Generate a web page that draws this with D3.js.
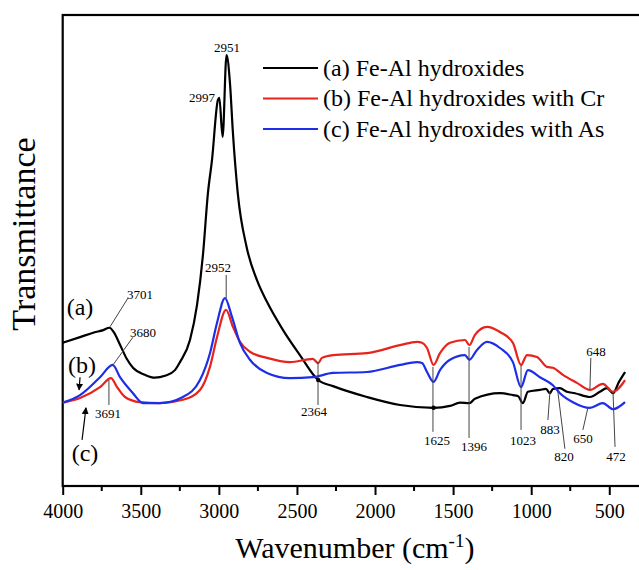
<!DOCTYPE html>
<html>
<head>
<meta charset="utf-8">
<script src="https://cdn.jsdelivr.net/npm/d3@7"></script>
<style>
  body { margin: 0; background: #fff; }
  svg { display: block; font-family: "Liberation Serif", "DejaVu Serif", serif; }
</style>
</head>
<body>
<div id="chart"></div>
<script>
'use strict';

// wavenumber (cm-1) and transmittance (arbitrary units)
var wnA = [4000, 3889, 3800, 3740, 3701, 3672, 3633, 3590, 3550, 3473, 3409, 3345, 3281, 3249, 3185, 3140, 3102, 3070, 3044, 3006, 2997, 2976, 2951, 2929, 2910, 2879, 2822, 2756, 2692, 2589, 2481, 2364, 2269, 2052, 1840, 1625, 1520, 1456, 1396, 1360, 1200, 1117, 1085, 1053, 1021, 944, 905, 880, 861, 816, 771, 720, 624, 560, 515, 476, 438, 399];
var valA = [30.4, 31.6, 32.6, 33.1, 33.6, 32.6, 30.0, 27.0, 25.1, 23.6, 23.0, 23.4, 24.6, 26.3, 31.0, 38.4, 49.0, 62.2, 69.2, 82.0, 82.4, 74.1, 91.5, 85.6, 75.0, 62.2, 50.7, 43.7, 39.1, 33.1, 27.8, 22.5, 21.2, 18.9, 17.2, 16.6, 17.0, 17.7, 17.6, 18.5, 19.7, 19.3, 19.1, 17.6, 20.0, 20.4, 20.6, 19.7, 20.6, 20.8, 20.0, 19.7, 18.9, 20.0, 20.8, 19.7, 22.1, 24.2];

var wnB = [4000, 3889, 3761, 3691, 3652, 3601, 3505, 3377, 3230, 3121, 3057, 3012, 2954, 2910, 2865, 2801, 2692, 2545, 2398, 2364, 2340, 2269, 2052, 1840, 1731, 1699, 1667, 1625, 1584, 1520, 1424, 1396, 1360, 1283, 1200, 1117, 1065, 1027, 963, 899, 861, 797, 707, 624, 541, 476, 399];
var valB = [17.7, 18.7, 21.0, 22.9, 21.0, 18.9, 17.8, 17.6, 18.3, 20.4, 25.3, 31.6, 37.4, 33.8, 30.6, 28.5, 27.2, 26.3, 27.0, 26.1, 27.2, 27.8, 28.2, 29.9, 30.6, 30.4, 29.3, 25.7, 28.2, 30.4, 31.0, 29.9, 32.1, 33.8, 32.7, 30.4, 25.7, 27.8, 27.4, 25.3, 25.1, 23.6, 21.9, 20.4, 21.7, 20.0, 22.5];

var wnC = [4000, 3889, 3761, 3680, 3633, 3550, 3486, 3377, 3230, 3121, 3057, 3012, 2961, 2916, 2865, 2801, 2692, 2545, 2398, 2269, 2052, 1840, 1731, 1699, 1667, 1625, 1584, 1520, 1424, 1396, 1347, 1283, 1200, 1117, 1065, 1021, 944, 861, 816, 733, 624, 541, 476, 399];
var valC = [17.7, 19.3, 23.1, 25.7, 23.1, 19.7, 17.6, 17.6, 18.9, 22.5, 28.2, 34.6, 39.9, 35.9, 30.4, 26.8, 24.0, 22.9, 23.1, 24.0, 24.2, 25.7, 26.3, 26.1, 24.2, 22.1, 24.6, 26.8, 27.8, 26.8, 28.9, 30.6, 29.3, 26.3, 21.0, 24.6, 23.1, 21.4, 19.7, 17.8, 16.6, 17.6, 16.3, 17.8];

var seriesNames = ["(a) Fe-Al hydroxides", "(b) Fe-Al hydroxides with Cr", "(c) Fe-Al hydroxides with As"];
var seriesColors = ["#000000", "#e8221c", "#1c2ee8"];

var xTicks = [4000, 3500, 3000, 2500, 2000, 1500, 1000, 500];

// peak labels: text, label position (wn, value)
var peakText = ["2951", "2997", "2952", "3701", "3680", "3691", "2364", "1625", "1396", "1023", "883", "820", "650", "648", "472"];
var peakWn = [2948, 3108, 3006, 3505, 3486, 3710, 2391, 1603, 1366, 1053, 880, 790, 669, 585, 457];
var peakVal = [93.2, 82.6, 46.5, 40.6, 32.7, 15.5, 15.9, 9.6, 8.5, 9.6, 12.1, 6.2, 10.2, 28.5, 6.2];
// leader lines: [wn1, val1, wn2, val2]
var leaders = [
  [2953, 44.8, 2953, 39.9], [3697, 33.8, 3582, 39.9], [3678, 25.7, 3550, 31.6],
  [3704, 22.5, 3704, 17.2], [2365, 26.3, 2365, 17.2], [1629, 25.3, 1629, 11.5],
  [1398, 29.5, 1398, 10.2], [1065, 25.7, 1065, 11.9], [880, 20.0, 893, 14.0],
  [829, 20.0, 784, 7.9], [637, 16.6, 669, 11.9], [618, 27.2, 624, 20.4], [476, 20.0, 463, 8.3]
];
var curveTags = ["(a)", "(b)", "(c)"];
var tagWn = [3889, 3876, 3857];
var tagVal = [38.0, 25.7, 7.0];
var arrows = [[3889, 23.1, 3895, 20.4], [3876, 9.8, 3851, 16.6]];

var W = 639, H = 570;
var plot = { left: 62.7, right: 640.5, top: 15, bottom: 486 };

var svg = d3.select("#chart").append("svg").attr("width", W).attr("height", H);

var x = d3.scaleLinear().domain([4000, 300]).range([plot.left, plot.right]);
var y = d3.scaleLinear().domain([0, 100]).range([plot.bottom, plot.top]);

svg.append("defs").append("marker")
  .attr("id", "arr").attr("viewBox", "0 0 10 10").attr("refX", 9).attr("refY", 5)
  .attr("markerWidth", 7).attr("markerHeight", 9).attr("markerUnits", "userSpaceOnUse")
  .attr("orient", "auto")
  .append("path").attr("d", "M0,0 L10,5 L0,10 z").attr("fill", "#000");

// frame
svg.append("rect")
  .attr("x", plot.left).attr("y", plot.top)
  .attr("width", plot.right - plot.left).attr("height", plot.bottom - plot.top)
  .attr("fill", "none").attr("stroke", "#000").attr("stroke-width", 2.2);

// x axis
var xAxis = svg.append("g").attr("transform", "translate(0," + plot.bottom + ")")
  .call(d3.axisBottom(x).tickValues(xTicks).tickSize(9).tickPadding(9).tickFormat(d3.format("d")));
xAxis.select(".domain").remove();
xAxis.selectAll("line").attr("stroke-width", 2);
xAxis.selectAll("text").attr("font-size", 20).attr("font-family", "Liberation Serif").attr("fill", "#000");

var minorTicks = d3.range(3750, 300, -500);
svg.append("g").selectAll("line").data(minorTicks).enter().append("line")
  .attr("x1", function (d) { return x(d); }).attr("x2", function (d) { return x(d); })
  .attr("y1", plot.bottom).attr("y2", plot.bottom + 5)
  .attr("stroke", "#000").attr("stroke-width", 2);

// titles
var xt = svg.append("text")
  .attr("x", (plot.left + 639) / 2 + 4).attr("y", 558)
  .attr("text-anchor", "middle").attr("font-size", 30);
xt.append("tspan").text("Wavenumber (cm");
xt.append("tspan").attr("dy", -11).attr("font-size", 19).text("-1");
xt.append("tspan").attr("dy", 11).text(")");

svg.append("text")
  .attr("transform", "translate(35,234) rotate(-90)")
  .attr("text-anchor", "middle").attr("font-size", 34)
  .text("Transmittance");

// curves
var allData = [
  wnA.map(function (d, i) { return [d, valA[i]]; }),
  wnB.map(function (d, i) { return [d, valB[i]]; }),
  wnC.map(function (d, i) { return [d, valC[i]]; })
];
var line = d3.line()
  .x(function (d) { return x(d[0]); })
  .y(function (d) { return y(d[1]); })
  .curve(d3.curveMonotoneX);

svg.append("g").selectAll("path").data(allData).enter().append("path")
  .attr("d", line)
  .attr("fill", "none")
  .attr("stroke", function (d, i) { return seriesColors[i]; })
  .attr("stroke-width", 2.2)
  .attr("stroke-linejoin", "round");

// leader lines and peak labels
svg.append("g").selectAll("line").data(leaders).enter().append("line")
  .attr("x1", function (d) { return x(d[0]); }).attr("y1", function (d) { return y(d[1]); })
  .attr("x2", function (d) { return x(d[2]); }).attr("y2", function (d) { return y(d[3]); })
  .attr("stroke", "#444").attr("stroke-width", 1);

svg.append("g").selectAll("text").data(peakText).enter().append("text")
  .attr("x", function (d, i) { return x(peakWn[i]); })
  .attr("y", function (d, i) { return y(peakVal[i]); })
  .attr("dy", "0.35em")
  .attr("text-anchor", "middle").attr("font-size", 13)
  .text(function (d) { return d; });

// dots on the black curve at 2364 and 1625
svg.append("g").selectAll("circle").data([[2364, 22.5], [1625, 16.6]]).enter().append("circle")
  .attr("cx", function (d) { return x(d[0]); }).attr("cy", function (d) { return y(d[1]); })
  .attr("r", 2.2).attr("fill", "#000");

// curve tags and arrows
svg.append("g").selectAll("text").data(curveTags).enter().append("text")
  .attr("x", function (d, i) { return x(tagWn[i]); })
  .attr("y", function (d, i) { return y(tagVal[i]); })
  .attr("dy", "0.35em").attr("text-anchor", "middle").attr("font-size", 24)
  .text(function (d) { return d; });

svg.append("g").selectAll("line").data(arrows).enter().append("line")
  .attr("x1", function (d) { return x(d[0]); }).attr("y1", function (d) { return y(d[1]); })
  .attr("x2", function (d) { return x(d[2]); }).attr("y2", function (d) { return y(d[3]); })
  .attr("stroke", "#000").attr("stroke-width", 1.2)
  .attr("marker-end", "url(#arr)");

// legend
var legend = svg.append("g").attr("transform", "translate(263,68)");
var item = legend.selectAll("g").data(seriesNames).enter().append("g")
  .attr("transform", function (d, i) { return "translate(0," + (i * 30.5) + ")"; });
item.append("line").attr("x1", 0).attr("x2", 55).attr("y1", 0).attr("y2", 0)
  .attr("stroke", function (d, i) { return seriesColors[i]; }).attr("stroke-width", 2.2);
item.append("text").attr("x", 60).attr("y", 0).attr("dy", "0.33em")
  .attr("font-size", 24).text(function (d) { return d; });
</script>
</body>
</html>
